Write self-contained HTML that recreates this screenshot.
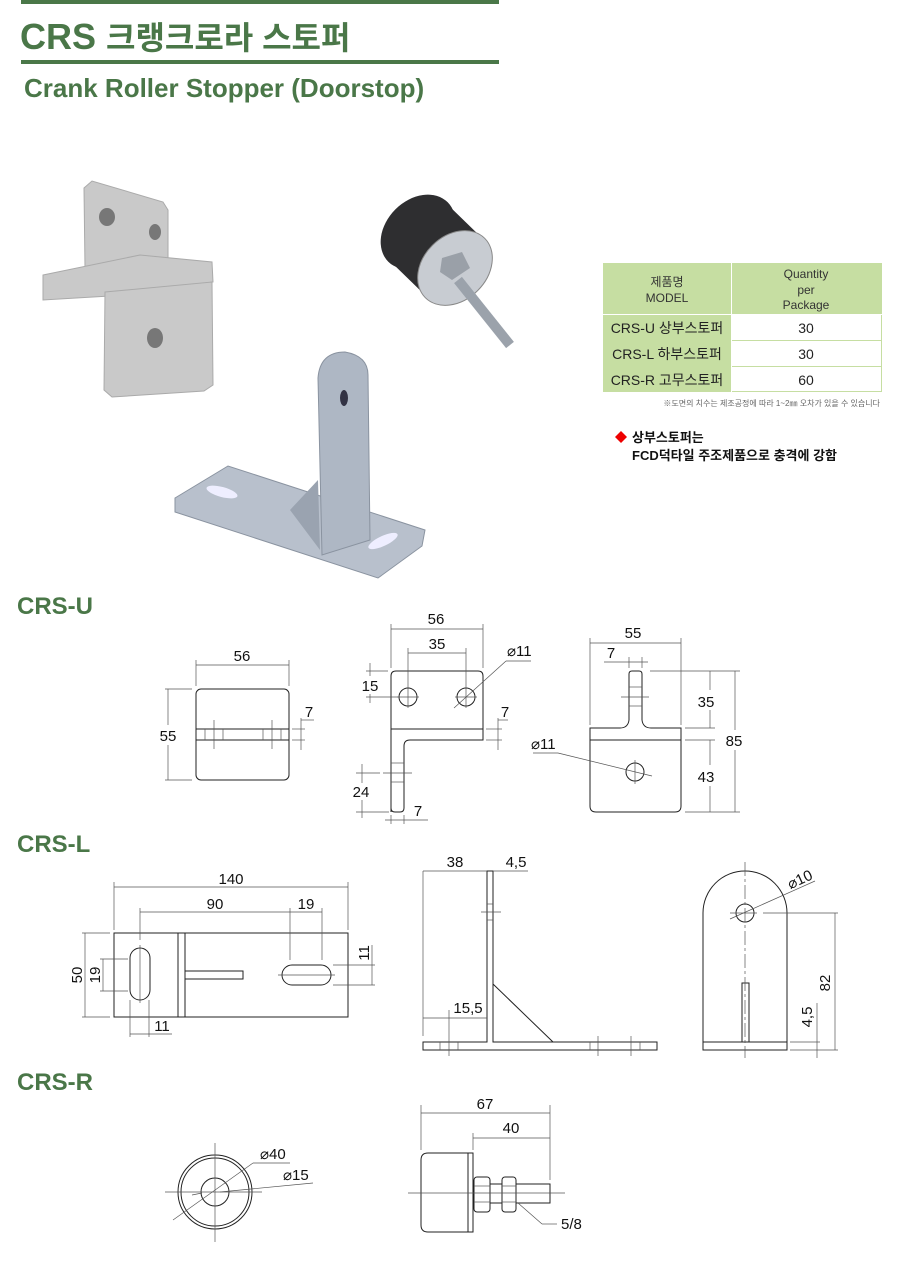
<!DOCTYPE html>
<html><head><meta charset="utf-8"><style>
body{margin:0;background:#fff;}
svg{display:block;}
.g{fill:#4a7748;font-family:"Liberation Sans","Noto Sans CJK KR",sans-serif;}
.d{font-family:"Liberation Sans",sans-serif;font-size:15px;fill:#111;}
.l{stroke:#222;stroke-width:1;fill:none;}
.t{stroke:#555;stroke-width:0.7;fill:none;}
.k{font-family:"Liberation Sans","Noto Sans CJK KR",sans-serif;}
</style></head><body>
<svg width="900" height="1270" viewBox="0 0 900 1270" xmlns="http://www.w3.org/2000/svg">
<!-- header -->
<rect x="21" y="0" width="478" height="4" fill="#4a7748"/>
<text x="20" y="49" class="g" font-size="36" font-weight="bold">CRS <tspan font-size="32">크랭크로라 스토퍼</tspan></text>
<rect x="21" y="60" width="478" height="4" fill="#4a7748"/>
<text x="24" y="97" class="g" font-size="26" font-weight="bold">Crank Roller Stopper (Doorstop)</text>

<!-- photos: Z bracket -->
<g fill="#c9c9c9" stroke="#aaa" stroke-width="1">
<polygon points="84,188 92,181 163,202 168,210 168,262 85,268"/>
<polygon points="43,275 140,255 212,262 213,282 110,296 43,300"/>
<polygon points="105,292 212,282 213,385 204,391 112,397 104,390"/>
</g>
<ellipse cx="107" cy="217" rx="8" ry="9" fill="#777"/>
<ellipse cx="155" cy="232" rx="6" ry="8" fill="#777"/>
<ellipse cx="155" cy="338" rx="8" ry="10" fill="#777"/>
<!-- rubber stopper -->
<ellipse cx="418" cy="232" rx="42" ry="32" transform="rotate(-45 418 232)" fill="#2e2e30"/>
<polygon points="390,261 446,203 483,239 427,297" fill="#2e2e30"/>
<ellipse cx="455" cy="268" rx="42" ry="32" transform="rotate(-45 455 268)" fill="#c8ccd2" stroke="#888"/>
<polygon points="442,258 462,252 470,268 452,280 440,272" fill="#9aa0a8"/>
<line x1="458" y1="280" x2="510" y2="345" stroke="#9ba2ab" stroke-width="10"/>
<!-- L bracket -->
<polygon points="175,498 228,466 425,530 422,546 378,578 175,512" fill="#b8c0cc" stroke="#8a93a0"/>
<ellipse cx="222" cy="492" rx="16" ry="5" fill="#eef" transform="rotate(15 222 492)"/>
<ellipse cx="383" cy="541" rx="16" ry="5" fill="#eef" transform="rotate(-25 383 541)"/>
<path d="M318,378 Q320,352 345,352 Q368,356 368,375 L370,540 L322,555 L318,378 Z" fill="#aeb7c4" stroke="#8a93a0"/>
<polygon points="290,510 318,480 320,550" fill="#9aa3b0"/>
<ellipse cx="344" cy="398" rx="4" ry="8" fill="#334"/>

<!-- table -->
<rect x="603" y="263" width="279" height="129" fill="#c6dea2"/>
<rect x="732" y="315" width="149" height="25" fill="#fff"/>
<rect x="732" y="341" width="149" height="25" fill="#fff"/>
<rect x="732" y="367" width="149" height="24" fill="#fff"/>
<line x1="603" y1="314.5" x2="882" y2="314.5" stroke="#fff"/>
<line x1="603" y1="340.5" x2="882" y2="340.5" stroke="#c6dea2"/>
<line x1="603" y1="366.5" x2="882" y2="366.5" stroke="#c6dea2"/>
<line x1="731.5" y1="263" x2="731.5" y2="392" stroke="#fff"/>
<g class="k" font-size="12" fill="#333" text-anchor="middle">
<text x="667" y="286">제품명</text><text x="667" y="302">MODEL</text>
<text x="806" y="278">Quantity</text><text x="806" y="294">per</text><text x="806" y="309">Package</text>
</g>
<g class="k" font-size="14" fill="#222">
<text x="667" y="333" text-anchor="middle">CRS-U 상부스토퍼</text>
<text x="667" y="359" text-anchor="middle">CRS-L 하부스토퍼</text>
<text x="667" y="385" text-anchor="middle">CRS-R 고무스토퍼</text>
<text x="806" y="333" text-anchor="middle">30</text>
<text x="806" y="359" text-anchor="middle">30</text>
<text x="806" y="385" text-anchor="middle">60</text>
</g>
<text x="880" y="406" class="k" font-size="8" fill="#666" text-anchor="end">※도면의 치수는 제조공정에 따라 1~2㎜ 오차가 있을 수 있습니다</text>
<polygon points="621,431 627,437 621,443 615,437" fill="#e00"/>
<text x="632" y="442" class="k" font-size="13" font-weight="bold" fill="#111">상부스토퍼는</text>
<text x="632" y="460" class="k" font-size="13" font-weight="bold" fill="#111">FCD덕타일 주조제품으로 충격에 강함</text>

<!-- section labels -->
<text x="17" y="614" class="g" font-size="24" font-weight="bold">CRS-U</text>
<text x="17" y="852" class="g" font-size="24" font-weight="bold">CRS-L</text>
<text x="17" y="1090" class="g" font-size="24" font-weight="bold">CRS-R</text>

<!-- CRS-U view 1 -->
<rect x="196" y="689" width="93" height="91" rx="5" class="l"/>
<rect x="196" y="729" width="93" height="11" class="l"/>
<g class="t">
<line x1="205" y1="729" x2="205" y2="740"/><line x1="223" y1="729" x2="223" y2="740"/>
<line x1="263" y1="729" x2="263" y2="740"/><line x1="281" y1="729" x2="281" y2="740"/>
<line x1="214" y1="720" x2="214" y2="749"/><line x1="272" y1="720" x2="272" y2="749"/>
<line x1="196" y1="686" x2="196" y2="660"/><line x1="289" y1="686" x2="289" y2="660"/>
<line x1="196" y1="665" x2="289" y2="665"/>
<line x1="165" y1="689" x2="192" y2="689"/><line x1="165" y1="780" x2="192" y2="780"/>
<line x1="168" y1="689" x2="168" y2="725"/><line x1="168" y1="745" x2="168" y2="780"/>
<line x1="292" y1="729" x2="305" y2="729"/><line x1="292" y1="740" x2="305" y2="740"/>
<line x1="301" y1="718" x2="301" y2="750"/><line x1="301" y1="720" x2="314" y2="720"/>
</g>
<text x="242" y="661" class="d" text-anchor="middle">56</text>
<text x="168" y="741" class="d" text-anchor="middle">55</text>
<text x="309" y="717" class="d" text-anchor="middle">7</text>

<!-- CRS-U view 2 -->
<path d="M391,812 L391,676 Q391,671 396,671 L478,671 Q483,671 483,676 L483,740 L410,740 Q404,740 404,746 L404,808 Q404,812 400,812 L395,812 Q391,812 391,808" class="l"/>
<line x1="391" y1="729" x2="483" y2="729" class="l"/>
<circle cx="408" cy="697" r="9" class="l"/><circle cx="466" cy="697" r="9" class="l"/>
<g class="t">
<line x1="397" y1="697" x2="419" y2="697"/><line x1="408" y1="686" x2="408" y2="708"/>
<line x1="455" y1="697" x2="477" y2="697"/><line x1="466" y1="686" x2="466" y2="708"/>
<line x1="391" y1="668" x2="391" y2="624"/><line x1="483" y1="668" x2="483" y2="624"/>
<line x1="391" y1="629" x2="483" y2="629"/>
<line x1="408" y1="686" x2="408" y2="648"/><line x1="466" y1="686" x2="466" y2="648"/>
<line x1="408" y1="653" x2="466" y2="653"/>
<line x1="531" y1="661" x2="506" y2="661"/><line x1="506" y1="661" x2="454" y2="708"/>
<line x1="366" y1="671" x2="388" y2="671"/><line x1="366" y1="697" x2="398" y2="697"/>
<line x1="370" y1="663" x2="370" y2="676"/><line x1="370" y1="694" x2="370" y2="703"/>
<line x1="486" y1="729" x2="502" y2="729"/><line x1="486" y1="740" x2="502" y2="740"/>
<line x1="498" y1="718" x2="498" y2="750"/><line x1="498" y1="720" x2="508" y2="720"/>
<line x1="391" y1="763" x2="404" y2="763"/><line x1="391" y1="782" x2="404" y2="782"/>
<line x1="383" y1="773" x2="412" y2="773"/>
<line x1="356" y1="773" x2="380" y2="773"/><line x1="356" y1="812" x2="389" y2="812"/>
<line x1="362" y1="764" x2="362" y2="783"/><line x1="362" y1="800" x2="362" y2="818"/>
<line x1="391" y1="815" x2="391" y2="824"/><line x1="404" y1="815" x2="404" y2="824"/>
<line x1="385" y1="820" x2="428" y2="820"/>
</g>
<text x="436" y="624" class="d" text-anchor="middle">56</text>
<text x="437" y="649" class="d" text-anchor="middle">35</text>
<text x="507" y="656" class="d" font-size="14">⌀11</text>
<text x="370" y="691" class="d" text-anchor="middle">15</text>
<text x="505" y="717" class="d" text-anchor="middle">7</text>
<text x="361" y="797" class="d" text-anchor="middle">24</text>
<text x="418" y="816" class="d" text-anchor="middle">7</text>

<!-- CRS-U view 3 -->
<path d="M629,674 Q629,671 632,671 L639,671 Q642,671 642,674 L642,720 Q643,728 651,728 L681,728 L681,806 Q681,812 675,812 L596,812 Q590,812 590,806 L590,728 L620,728 Q628,728 629,720 Z" class="l"/>
<line x1="590" y1="740" x2="681" y2="740" class="l"/>
<line x1="629" y1="687" x2="642" y2="687" class="t"/><line x1="629" y1="706" x2="642" y2="706" class="t"/>
<circle cx="635" cy="772" r="9" class="l"/>
<g class="t">
<line x1="621" y1="697" x2="649" y2="697"/><line x1="635" y1="760" x2="635" y2="784"/>
<line x1="590" y1="725" x2="590" y2="638"/><line x1="681" y1="725" x2="681" y2="638"/>
<line x1="590" y1="643" x2="681" y2="643"/>
<line x1="629" y1="668" x2="629" y2="657"/><line x1="642" y1="668" x2="642" y2="657"/>
<line x1="604" y1="662" x2="648" y2="662"/>
<line x1="650" y1="671" x2="740" y2="671"/><line x1="685" y1="728" x2="715" y2="728"/>
<line x1="685" y1="740" x2="715" y2="740"/><line x1="685" y1="812" x2="740" y2="812"/>
<line x1="710" y1="671" x2="710" y2="690"/><line x1="710" y1="710" x2="710" y2="728"/>
<line x1="710" y1="740" x2="710" y2="765"/><line x1="710" y1="786" x2="710" y2="812"/>
<line x1="735" y1="671" x2="735" y2="730"/><line x1="735" y1="750" x2="735" y2="812"/>
<line x1="533" y1="753" x2="558" y2="753"/><line x1="558" y1="753" x2="652" y2="776"/>
</g>
<text x="633" y="638" class="d" text-anchor="middle">55</text>
<text x="611" y="658" class="d" text-anchor="middle">7</text>
<text x="706" y="707" class="d" text-anchor="middle">35</text>
<text x="706" y="782" class="d" text-anchor="middle">43</text>
<text x="734" y="746" class="d" text-anchor="middle">85</text>
<text x="531" y="749" class="d" font-size="14">⌀11</text>

<!-- CRS-L plan -->
<rect x="114" y="933" width="234" height="84" class="l"/>
<line x1="178" y1="933" x2="178" y2="1017" class="l"/><line x1="185" y1="933" x2="185" y2="1017" class="l"/>
<rect x="185" y="971" width="58" height="8" class="l"/>
<rect x="130" y="948" width="20" height="52" rx="10" class="l"/>
<rect x="282" y="965" width="49" height="20" rx="10" class="l"/>
<g class="t">
<line x1="140" y1="945" x2="140" y2="1003"/><line x1="278" y1="975" x2="335" y2="975"/>
<line x1="114" y1="930" x2="114" y2="882"/><line x1="348" y1="930" x2="348" y2="882"/>
<line x1="114" y1="887" x2="348" y2="887"/>
<line x1="140" y1="940" x2="140" y2="908"/><line x1="290" y1="960" x2="290" y2="908"/><line x1="322" y1="960" x2="322" y2="908"/>
<line x1="140" y1="912" x2="322" y2="912"/>
<line x1="82" y1="933" x2="110" y2="933"/><line x1="82" y1="1017" x2="110" y2="1017"/>
<line x1="85" y1="933" x2="85" y2="1017"/>
<line x1="100" y1="959" x2="128" y2="959"/><line x1="100" y1="991" x2="128" y2="991"/>
<line x1="103" y1="959" x2="103" y2="991"/>
<line x1="130" y1="1000" x2="130" y2="1037"/><line x1="149" y1="1000" x2="149" y2="1037"/>
<line x1="130" y1="1034" x2="172" y2="1034"/>
<line x1="333" y1="965" x2="375" y2="965"/><line x1="333" y1="985" x2="375" y2="985"/>
<line x1="372" y1="945" x2="372" y2="985"/>
</g>
<text x="231" y="884" class="d" text-anchor="middle">140</text>
<text x="215" y="909" class="d" text-anchor="middle">90</text>
<text x="306" y="909" class="d" text-anchor="middle">19</text>
<text x="162" y="1031" class="d" text-anchor="middle">11</text>
<text class="d" text-anchor="middle" transform="translate(82,975) rotate(-90)">50</text>
<text class="d" text-anchor="middle" transform="translate(100,975) rotate(-90)">19</text>
<text class="d" text-anchor="middle" transform="translate(369,953) rotate(-90)">11</text>

<!-- CRS-L side -->
<path d="M487,871 L493,871 L493,1042 L657,1042 L657,1050 L423,1050 L423,1042 L487,1042 Z" class="l"/>
<line x1="493" y1="984" x2="553" y2="1042" class="l"/>
<g class="t">
<line x1="440" y1="1042" x2="440" y2="1050"/><line x1="458" y1="1042" x2="458" y2="1050"/>
<line x1="590" y1="1042" x2="590" y2="1050"/><line x1="640" y1="1042" x2="640" y2="1050"/>
<line x1="449" y1="1010" x2="449" y2="1056"/><line x1="598" y1="1036" x2="598" y2="1056"/><line x1="631" y1="1036" x2="631" y2="1056"/>
<line x1="487" y1="904" x2="493" y2="904"/><line x1="487" y1="920" x2="493" y2="920"/>
<line x1="481" y1="912" x2="501" y2="912"/>
<line x1="423" y1="871" x2="487" y2="871"/><line x1="493" y1="871" x2="528" y2="871"/>
<line x1="423" y1="871" x2="423" y2="1036"/>
<line x1="423" y1="1018" x2="487" y2="1018"/>
</g>
<text x="455" y="867" class="d" text-anchor="middle">38</text>
<text x="516" y="867" class="d" text-anchor="middle">4,5</text>
<text x="468" y="1013" class="d" text-anchor="middle">15,5</text>

<!-- CRS-L front -->
<path d="M703,1042 L703,913 A42,42 0 0 1 787,913 L787,1042" class="l"/>
<rect x="703" y="1042" width="84" height="8" class="l"/>
<circle cx="745" cy="913" r="9" class="l"/>
<rect x="742" y="983" width="7" height="59" class="l"/>
<g class="t">
<line x1="745" y1="862" x2="745" y2="1058" stroke-dasharray="14,3,3,3"/>
<line x1="730" y1="913" x2="757" y2="913"/>
<line x1="763" y1="913" x2="838" y2="913"/><line x1="790" y1="1050" x2="838" y2="1050"/>
<line x1="835" y1="913" x2="835" y2="1050"/>
<line x1="790" y1="1042" x2="820" y2="1042"/>
<line x1="817" y1="1003" x2="817" y2="1058"/>
<line x1="730" y1="919" x2="815" y2="881"/>
</g>
<text class="d" text-anchor="middle" transform="translate(830,983) rotate(-90)">82</text>
<text class="d" text-anchor="middle" transform="translate(812,1017) rotate(-90)">4,5</text>
<text class="d" font-size="14" text-anchor="middle" transform="translate(802,884) rotate(-25)">⌀10</text>

<!-- CRS-R front -->
<circle cx="215" cy="1192" r="37" class="l"/><circle cx="215" cy="1192" r="34" class="l"/><circle cx="215" cy="1192" r="14" class="l"/>
<g class="t">
<line x1="215" y1="1143" x2="215" y2="1242"/><line x1="165" y1="1192" x2="262" y2="1192"/>
<line x1="173" y1="1220" x2="253" y2="1163"/><line x1="253" y1="1163" x2="290" y2="1163"/>
<line x1="313" y1="1183" x2="220" y2="1192"/><line x1="192" y1="1195" x2="202" y2="1193"/>
</g>
<text x="260" y="1159" class="d" font-size="16">⌀40</text>
<text x="283" y="1180" class="d" font-size="16">⌀15</text>

<!-- CRS-R side -->
<path d="M468,1153 L428,1153 Q421,1153 421,1160 L421,1225 Q421,1232 428,1232 L468,1232 Z" class="l"/>
<rect x="468" y="1153" width="5" height="79" class="l"/>
<rect x="474" y="1177" width="16" height="35" rx="3" class="l"/>
<rect x="502" y="1177" width="14" height="35" rx="3" class="l"/>
<path d="M490,1184 L502,1184 M516,1184 L550,1184 L550,1203 L516,1203 M502,1203 L490,1203" class="l"/>
<g class="t">
<line x1="474" y1="1186" x2="490" y2="1186"/><line x1="474" y1="1202" x2="490" y2="1202"/>
<line x1="502" y1="1186" x2="516" y2="1186"/><line x1="502" y1="1202" x2="516" y2="1202"/>
<line x1="408" y1="1193" x2="565" y2="1193"/>
<line x1="421" y1="1105" x2="421" y2="1150"/><line x1="550" y1="1105" x2="550" y2="1180"/><line x1="473" y1="1133" x2="473" y2="1150"/>
<line x1="421" y1="1113" x2="550" y2="1113"/><line x1="473" y1="1138" x2="550" y2="1138"/>
<line x1="518" y1="1203" x2="542" y2="1224"/><line x1="542" y1="1224" x2="557" y2="1224"/>
</g>
<text x="485" y="1109" class="d" font-size="16" text-anchor="middle">67</text>
<text x="511" y="1133" class="d" font-size="16" text-anchor="middle">40</text>
<text x="561" y="1229" class="d" font-size="10">5/8</text>
</svg>
</body></html>
